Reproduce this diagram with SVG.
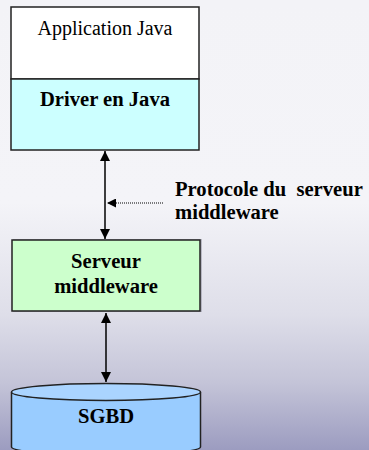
<svg xmlns="http://www.w3.org/2000/svg" width="369" height="450" viewBox="0 0 369 450">
  <defs>
    <linearGradient id="bg" x1="0" y1="0" x2="0" y2="1">
      <stop offset="0" stop-color="#f3f3f7"/>
      <stop offset="0.45" stop-color="#f4f4f8"/>
      <stop offset="0.7" stop-color="#dedee9"/>
      <stop offset="0.85" stop-color="#c4c4d8"/>
      <stop offset="1" stop-color="#9c9cc0"/>
    </linearGradient>
    <marker id="head" viewBox="0 0 10 10" refX="10" refY="5" markerWidth="10" markerHeight="10" markerUnits="userSpaceOnUse" orient="auto-start-reverse">
      <path d="M0,0 L10,5 L0,10 Z" fill="#000"/>
    </marker>
    <marker id="headSmall" viewBox="0 0 10 10" refX="10" refY="5" markerWidth="9" markerHeight="9" markerUnits="userSpaceOnUse" orient="auto">
      <path d="M0,0 L10,5 L0,10 Z" fill="#000"/>
    </marker>
  </defs>
  <style>
    .box { stroke: #222; stroke-width: 1.5; }
    .shadow { fill: #8a8a9a; opacity: 0.5; }
    .lbl { font-family: "Liberation Serif", "Times New Roman", serif; font-size: 20px; fill: #000; white-space: pre; }
    .b { font-weight: bold; font-size: 20.6px; }
    .conn { stroke: #000; stroke-width: 1.5; fill: none; }
    .dot { stroke: #000; stroke-width: 1; stroke-dasharray: 1 1; fill: none; }
  </style>

  <rect width="369" height="450" fill="url(#bg)"/>

  <!-- client side: application on top of the JDBC driver -->
  <g id="application-java">
    <rect x="11" y="7" width="188" height="72" fill="#ffffff" class="box"/>
    <text x="105" y="35" text-anchor="middle" class="lbl" font-size="20.5">Application Java</text>
  </g>
  <g id="driver-java">
    <rect x="11" y="79" width="188" height="71" fill="#ccffff" class="box"/>
    <text x="105" y="106" text-anchor="middle" class="lbl b">Driver en Java</text>
  </g>

  <!-- middleware server -->
  <g id="serveur-middleware">
    <rect x="13" y="239" width="189" height="73" class="shadow"/>
    <rect x="12" y="240" width="188" height="71" fill="#ccffcc" class="box"/>
    <text x="106" y="268" text-anchor="middle" class="lbl b">Serveur</text>
    <text x="106" y="293" text-anchor="middle" class="lbl b">middleware</text>
  </g>

  <!-- database cylinder -->
  <g id="sgbd">
    <path d="M11.5,392 L11.5,447 A94.5,8 0 0 0 200.5,447 L200.5,392" fill="#99ccff" class="box"/>
    <ellipse cx="106" cy="392" rx="94.5" ry="8.5" fill="#aad4ff" class="box"/>
    <text x="106" y="423" text-anchor="middle" class="lbl b">SGBD</text>
  </g>

  <!-- connectors -->
  <g id="connectors">
    <line x1="105" y1="151" x2="105" y2="239" class="conn" marker-start="url(#head)" marker-end="url(#head)"/>
    <line x1="106" y1="313" x2="106" y2="382" class="conn" marker-start="url(#head)" marker-end="url(#head)"/>
    <line x1="163" y1="203" x2="107" y2="203" class="dot" marker-end="url(#headSmall)"/>
  </g>

  <g id="protocole-label">
    <text x="175" y="196" class="lbl b" xml:space="preserve">Protocole du  serveur</text>
    <text x="175" y="219" class="lbl b">middleware</text>
  </g>
</svg>
